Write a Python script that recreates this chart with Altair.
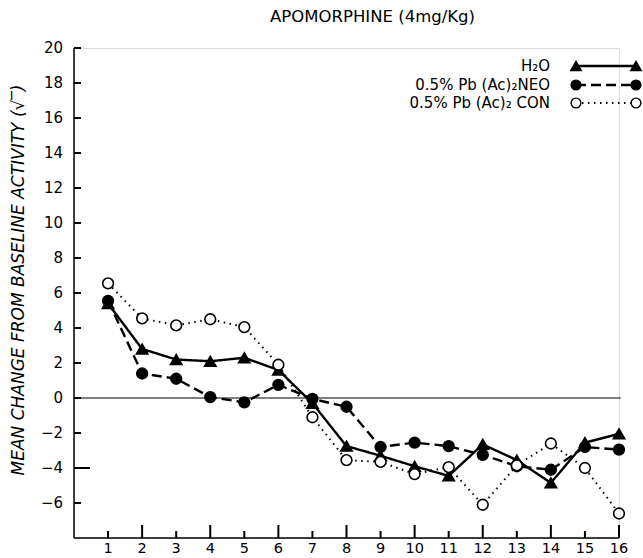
import altair as alt
import pandas as pd

# Session (x) and mean change from baseline activity for each treatment group
sessions = list(range(1, 17))
h2o = [5.4, 2.8, 2.2, 2.1, 2.3, 1.6, -0.3, -2.75, -3.3, -3.9, -4.45, -2.65, -3.55, -4.85, -2.55, -2.05]
neo = [5.55, 1.4, 1.1, 0.05, -0.25, 0.75, -0.05, -0.5, -2.8, -2.55, -2.75, -3.25, -3.9, -4.1, -2.8, -2.95]
con = [6.55, 4.55, 4.15, 4.5, 4.05, 1.9, -1.1, -3.55, -3.65, -4.35, -3.95, -6.1, -3.85, -2.6, -4.0, -6.6]

series_names = ["H₂O", "0.5% Pb (Ac)₂NEO", "0.5% Pb (Ac)₂ CON"]

x_major_ticks = [2, 4, 6, 8, 10, 12, 14, 16]
x_minor_ticks = [1, 3, 5, 7, 9, 11, 13, 15]
y_ticks = [-6, -4, -2, 0, 2, 4, 6, 8, 10, 12, 14, 16, 18, 20]
y_long_ticks = [-4]
y_title = "MEAN CHANGE FROM BASELINE ACTIVITY (√‾)"

FONT = "DejaVu Sans"
W, H = 545, 490

xs = alt.Scale(domain=[0, 16], nice=False, zero=False)
ys = alt.Scale(domain=[-8, 20], nice=False, zero=False)

# Series styles: (name, values, shape, fill, dash, line width)
styles = [
    (series_names[0], h2o, "triangle-up", "black", [1, 0], 2.4),
    (series_names[1], neo, "circle", "black", [10, 5], 2.4),
    (series_names[2], con, "circle", "white", [1.5, 4.5], 2.0),
]


def X(field):
    return alt.X(field, scale=xs, axis=None)


def Y(field):
    return alt.Y(field, scale=ys, axis=None)


layers = []

# axis lines (left and bottom)
axes_df = pd.DataFrame({"k": ["axes"]})
layers.append(alt.Chart(axes_df).mark_rule(color="black", strokeWidth=1.5).encode(
    x=alt.value(0), y=alt.value(0), y2=alt.value(H)))
layers.append(alt.Chart(axes_df).mark_rule(color="black", strokeWidth=1.5).encode(
    x=alt.value(0), x2=alt.value(W), y=alt.value(H)))

# zero reference line
zero_df = pd.DataFrame({"x": [0], "x2": [16.05], "y": [0]})
layers.append(
    alt.Chart(zero_df).mark_rule(color="black", strokeWidth=1).encode(
        x=X("x:Q"), x2="x2:Q", y=Y("y:Q"),
    )
)

# inward ticks: long at even sessions, short at odd ones
layers.append(
    alt.Chart(pd.DataFrame({"xmaj": x_major_ticks}))
    .mark_tick(orient="vertical", color="black", size=13, thickness=2, opacity=1)
    .encode(x=X("xmaj:Q"), y=alt.value(H - 6.5))
)
layers.append(
    alt.Chart(pd.DataFrame({"xmin": x_minor_ticks}))
    .mark_tick(orient="vertical", color="black", size=7, thickness=2, opacity=1)
    .encode(x=X("xmin:Q"), y=alt.value(H - 3.5))
)
layers.append(
    alt.Chart(pd.DataFrame({"ytk": y_ticks}))
    .mark_tick(orient="horizontal", color="black", size=7, thickness=2, opacity=1)
    .encode(y=Y("ytk:Q"), x=alt.value(3.5))
)
layers.append(
    alt.Chart(pd.DataFrame({"ylong": y_long_ticks}))
    .mark_tick(orient="horizontal", color="black", size=16, thickness=2, opacity=1)
    .encode(y=Y("ylong:Q"), x=alt.value(8))
)

# tick labels
layers.append(
    alt.Chart(pd.DataFrame({"t": sessions})).mark_text(
        font=FONT, fontSize=14.5, color="black", align="center", baseline="middle")
    .encode(x=X("t:Q"), y=alt.value(H + 11), text="t:Q")
)
layers.append(
    alt.Chart(pd.DataFrame({"t": y_ticks})).mark_text(
        font=FONT, fontSize=15, color="black", align="right", baseline="middle")
    .encode(y=Y("t:Q"), x=alt.value(-11), text="t:Q")
)

# y-axis title
layers.append(
    alt.Chart(pd.DataFrame({"label": [y_title]})).mark_text(
        font=FONT, fontSize=17, fontStyle="italic", color="black", angle=270,
        align="center", baseline="middle")
    .encode(x=alt.value(-55), y=alt.value(232), text="label:N")
)

# data series
for name, vals, shape, fill, dash, lw in styles:
    df = pd.DataFrame({"session": sessions, "value": vals})
    base = alt.Chart(df).encode(x=X("session:Q"), y=Y("value:Q"))
    layers.append(base.mark_line(color="black", strokeWidth=lw, strokeDash=dash))
    layers.append(base.mark_point(shape=shape, filled=True, fill=fill, stroke="black",
                                  strokeWidth=1.6, size=115 if shape == "circle" else 130,
                                  opacity=1))

# key (pixel placement in the upper right)
key_rows = [18, 37, 55]
key_text_x = 476
key_left, key_right = 502, 562
for (name, vals, shape, fill, dash, lw), ky in zip(styles, key_rows):
    kdf = pd.DataFrame({"label": [name]})
    layers.append(
        alt.Chart(kdf).mark_rule(color="black", strokeWidth=lw, strokeDash=dash).encode(
            x=alt.value(key_left), x2=alt.value(key_right), y=alt.value(ky)
        )
    )
    for kx in (key_left, key_right):
        layers.append(
            alt.Chart(kdf).mark_point(shape=shape, filled=True, fill=fill, stroke="black",
                                      strokeWidth=1.4, size=95 if shape == "circle" else 110,
                                      opacity=1).encode(x=alt.value(kx), y=alt.value(ky))
        )
    layers.append(
        alt.Chart(kdf).mark_text(align="right", baseline="middle", font=FONT, fontSize=15,
                                 color="black").encode(
            x=alt.value(key_text_x), y=alt.value(ky), text="label:N"
        )
    )

chart = alt.layer(*layers).properties(
    width=W,
    height=H,
    title=alt.TitleParams("APOMORPHINE (4mg/Kg)", font=FONT, fontSize=16.5,
                          fontWeight="normal", color="black", dx=26, offset=16),
    autosize=alt.AutoSizeParams(type="none"),
    padding={"left": 74, "top": 48, "right": 24, "bottom": 20},
).configure_view(stroke=None).configure(background="white")

chart.save("out.html", embed_options={"renderer": "svg", "actions": False})
